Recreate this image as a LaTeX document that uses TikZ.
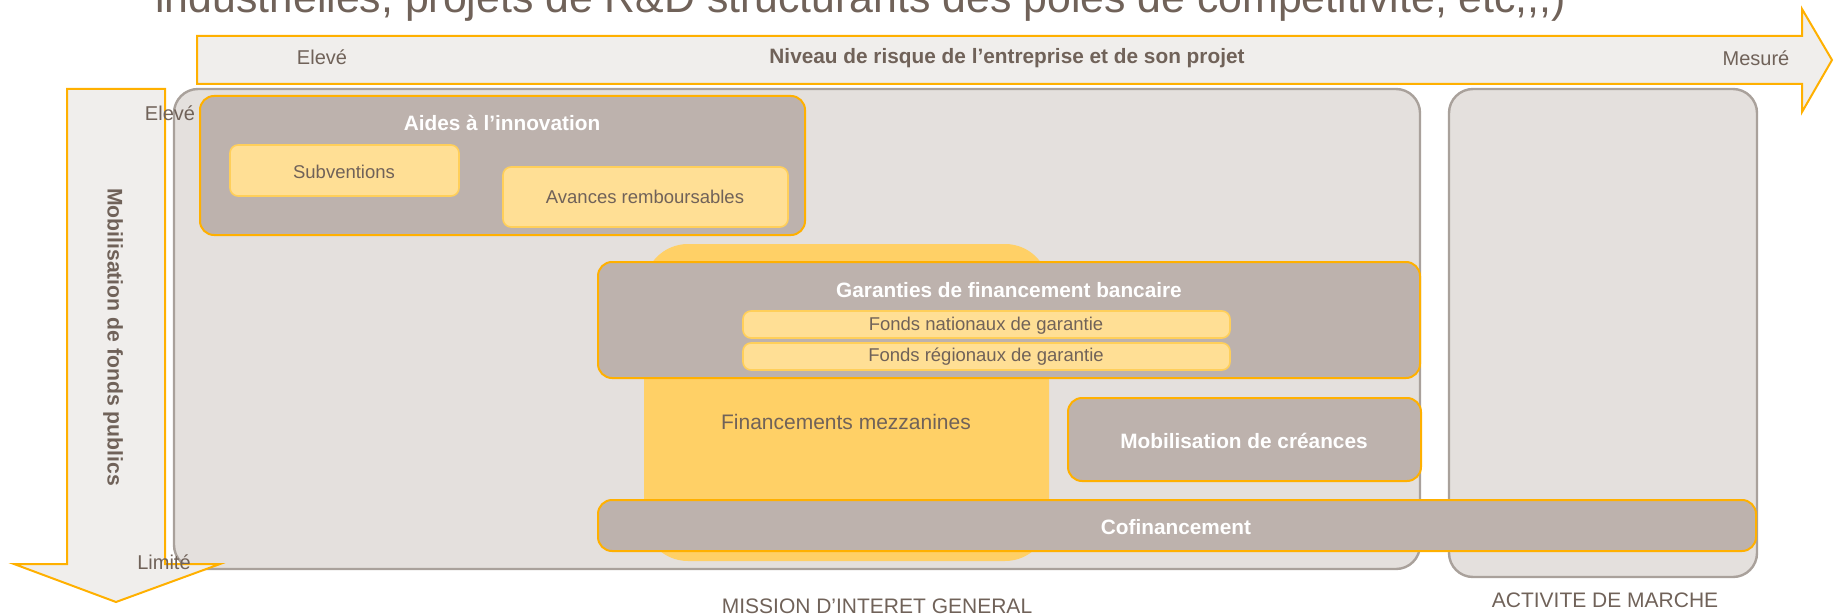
\documentclass[tikz,border=0pt]{standalone}
\usepackage{fontspec}
\setmainfont{Liberation Sans}
\definecolor{txtbrown}{RGB}{112,98,89}
\definecolor{orangeline}{RGB}{255,176,0}
\definecolor{arrowfill}{RGB}{240,238,236}
\definecolor{panelfill}{RGB}{228,224,221}
\definecolor{panelline}{RGB}{169,161,155}
\definecolor{taupe}{RGB}{189,178,173}
\definecolor{paleyellow}{RGB}{255,223,149}
\definecolor{yellowline}{RGB}{255,207,90}
\definecolor{mezzyellow}{RGB}{255,208,102}

\tikzset{
  panel/.style={draw=panelline, fill=panelfill, line width=1.2pt, rounded corners=12pt},
  family/.style={draw=orangeline, fill=taupe, line width=1pt, rounded corners=7pt},
  item/.style={draw=yellowline, fill=paleyellow, line width=0.8pt, rounded corners=4pt},
  axisarrow/.style={draw=orangeline, fill=arrowfill, line width=1pt},
  lbl/.style={text=txtbrown, font=\fontsize{9.25}{11}\selectfont, inner sep=0pt},
  axislbl/.style={text=txtbrown, font=\fontsize{10}{12}\selectfont, inner sep=0pt},
  biglbl/.style={text=txtbrown, font=\fontsize{10.5}{12}\selectfont, inner sep=0pt},
  famlbl/.style={text=white, font=\bfseries\fontsize{10.4}{12}\selectfont, inner sep=0pt}
}

\begin{document}
\begin{tikzpicture}[x=0.5pt, y=-0.5pt]
                \useasboundingbox (0,0) rectangle (1836,615);
                \clip (0,0) rectangle (1836,615);

                \node[anchor=base west, text=txtbrown, font=\fontsize{21.4}{25}\selectfont, inner sep=0pt] (title) at (155,13)
                    {industrielles, projets de R\&D structurants des pôles de compétitivité, etc,{},{},)};

                % panneaux
                \draw[panel] (174,89) rectangle (1420,569);
                \draw[panel] (1449,89) rectangle (1757,577);
                \fill[mezzyellow, rounded corners=22pt] (644,244) rectangle (1049,561);

                % aides
                \draw[family] (200,96) rectangle (805,235);
                \draw[item] (230,145) rectangle (459,196);
                \draw[item] (503,167) rectangle (788,227);

                % garanties
                \draw[family] (598,262) rectangle (1420,378);
                \draw[item] (743,311) rectangle (1230,338);
                \draw[item] (743,343) rectangle (1230,370);

                \draw[family] (1068,398) rectangle (1421,481);
                \draw[family] (598,500) rectangle (1756,551);

                % axes
                \draw[axisarrow] (197,36) -- (1802,36) -- (1802,9) -- (1832,60) -- (1802,112) -- (1802,84) -- (197,84) -- cycle;
                \draw[axisarrow] (67,89) -- (165,89) -- (165,564) -- (220,564) -- (116,602) -- (14,564) -- (67,564) -- cycle;

                \node[axislbl] (riskhigh) at (322,57) {Elevé};
                \node[axislbl, font=\bfseries\fontsize{10.4}{12}\selectfont] (riskaxis) at (1007,58) {Niveau de risque de l’entreprise et de son projet};
                \node[axislbl] (risklow) at (1756,58) {Mesuré};
                \node[axislbl, font=\bfseries\fontsize{10.6}{12}\selectfont, rotate=-90] (fundaxis) at (113,337) {Mobilisation de fonds publics};
                \node[axislbl] (fundhigh) at (170,113) {Elevé};
                \node[axislbl] (fundlow) at (164,562) {Limité};

                \node[famlbl] (aides) at (502,123) {Aides à l’innovation};
                \node[lbl] (subv) at (344,172) {Subventions};
                \node[lbl] (avances) at (645,197) {Avances remboursables};
                \node[famlbl] (garanties) at (1009,290) {Garanties de financement bancaire};
                \node[lbl] (fnat) at (986,326) {Fonds nationaux de garantie};
                \node[lbl] (freg) at (986,357) {Fonds régionaux de garantie};
                \node[biglbl] (mezz) at (846,422) {Financements mezzanines};
                \node[famlbl] (mobil) at (1244,441) {Mobilisation de créances};
                \node[famlbl] (cofin) at (1176,527) {Cofinancement};

                \node[biglbl] (mission) at (877,606) {MISSION D’INTERET GENERAL};
                \node[biglbl] (marche) at (1605,600) {ACTIVITE DE MARCHE};
\end{tikzpicture}
\end{document}
